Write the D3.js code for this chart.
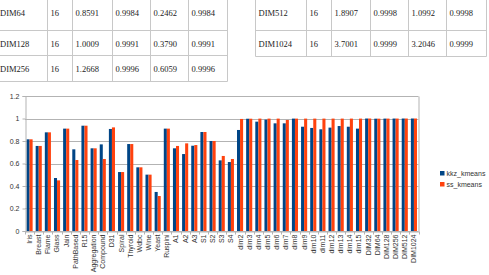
<!DOCTYPE html>
<html>
<head>
<meta charset="utf-8">
<script src="https://cdn.jsdelivr.net/npm/d3@7"></script>
<style>
  body { margin: 0; background: #fff; }
  svg { display: block; }
</style>
</head>
<body>
<svg id="chart" width="489" height="275"></svg>
<script>
// table rows shown above the chart
const tableLeftRows = [
    ["DIM64", "16", "0.8591", "0.9984", "0.2462", "0.9984"],
    ["DIM128", "16", "1.0009", "0.9991", "0.3790", "0.9991"],
    ["DIM256", "16", "1.2668", "0.9996", "0.6059", "0.9996"]
]
const tableRightRows = [
    ["DIM512", "16", "1.8907", "0.9998", "1.0992", "0.9998"],
    ["DIM1024", "16", "3.7001", "0.9999", "3.2046", "0.9999"]
]

const categories = ["Iris", "Breast", "Flame", "Glass", "Jain", "PathBased", "R15", "Aggregation",
    "Compound", "D31", "Spiral", "Thyroid", "Wdbc", "Wine", "Yeast", "Ruspini", "A1", "A2", "A3",
    "S1", "S2", "S3", "S4", "dim2", "dim3", "dim4", "dim5", "dim6", "dim7", "dim8", "dim9", "dim10",
    "dim11", "dim12", "dim13", "dim14", "dim15", "DIM32", "DIM64", "DIM128", "DIM256", "DIM512", "DIM1024"]
const seriesNames = ["kkz_kmeans", "ss_kmeans"]
const kkz = [0.815, 0.756, 0.877, 0.471, 0.910, 0.726, 0.936, 0.735,
    0.770, 0.907, 0.524, 0.773, 0.566, 0.501, 0.347, 0.910, 0.735, 0.684, 0.758,
    0.880, 0.800, 0.628, 0.613, 0.898, 0.998, 0.972, 0.990, 0.957, 0.957, 0.999, 0.927, 0.916,
    0.904, 0.919, 0.933, 0.927, 0.910, 0.9998, 0.9984, 0.9991, 0.9996, 0.9998, 0.9999]
const ss = [0.815, 0.756, 0.877, 0.450, 0.910, 0.631, 0.936, 0.735,
    0.640, 0.921, 0.524, 0.773, 0.566, 0.501, 0.311, 0.910, 0.756, 0.779, 0.764,
    0.880, 0.800, 0.667, 0.640, 0.996, 0.998, 0.999, 0.999, 0.999, 0.987, 0.999, 0.999, 0.999,
    0.999, 0.999, 0.999, 0.999, 0.999, 0.9998, 0.9984, 0.9991, 0.9996, 0.9998, 0.9999]
const yTicks = [0, 0.2, 0.4, 0.6, 0.8, 1, 1.2]
const colors = ["#004586", "#ff420e"]

const svg = d3.select('#chart')

// ---- tables ----
const drawTable = (rows, colEdges, rowEdges, leftBorder) => {
    const g = svg.append('g')
    const x0 = colEdges[0], x1 = colEdges[colEdges.length - 1]
    rowEdges.forEach(y => {
        g.append('line').attr('x1', x0).attr('x2', x1).attr('y1', y).attr('y2', y)
            .attr('stroke', '#c8c8c8').attr('stroke-width', 1)
    })
    colEdges.forEach((x, i) => {
        if (i == 0 && !leftBorder) return
        g.append('line').attr('x1', x).attr('x2', x).attr('y1', 0).attr('y2', rowEdges[rowEdges.length - 1])
            .attr('stroke', '#c8c8c8').attr('stroke-width', 1)
    })
    const rowTop = [0].concat(rowEdges)
    rows.forEach((row, r) => {
        row.forEach((cell, c) => {
            g.append('text')
                .attr('x', colEdges[c] + 3)
                .attr('y', rowTop[r] + 16)
                .attr('font-family', 'Liberation Serif, serif')
                .attr('font-size', 8.5)
                .attr('fill', '#222')
                .text(cell)
        })
    })
}
drawTable(tableLeftRows, [-3, 47.5, 72.5, 112.5, 150.5, 188.5, 227.5], [30.5, 55.5, 81.5], false)
drawTable(tableRightRows, [255.5, 306.5, 331.5, 370.5, 408.5, 446.5, 486.5], [30.5, 56.5], true)

// ---- chart ----
const plotLeft = 25, plotRight = 418.5, plotTop = 96, plotBottom = 231

const x = d3.scaleBand().domain(categories).range([plotLeft, plotRight])
const x1 = d3.scaleBand().domain(seriesNames)
    .range([x.bandwidth() / 6, x.bandwidth() * 5 / 6])
const y = d3.scaleLinear().domain([0, 1.2]).range([plotBottom, plotTop])

// gridlines
svg.append('g').selectAll('line')
    .data(yTicks)
    .enter()
        .append('line')
        .attr('x1', plotLeft).attr('x2', plotRight)
        .attr('y1', d => Math.round(y(d)) + 0.5).attr('y2', d => Math.round(y(d)) + 0.5)
        .attr('stroke', '#b3b3b3')
svg.append('line')
    .attr('x1', plotRight + 0.5).attr('x2', plotRight + 0.5)
    .attr('y1', Math.round(y(1.2)) + 0.5).attr('y2', Math.round(y(0)) + 0.5)
    .attr('stroke', '#b3b3b3')

// bars
const seriesData = [kkz, ss]
seriesData.forEach((vals, s) => {
    svg.append('g').selectAll('rect')
        .data(vals)
        .enter()
            .append('rect')
            .attr('x', (d, i) => x(categories[i]) + x1(seriesNames[s]))
            .attr('y', d => y(d))
            .attr('width', x1.bandwidth())
            .attr('height', d => y(0) - y(d))
            .attr('fill', colors[s])
})

// y axis
const yAxis = svg.append('g')
    .attr('transform', `translate(${plotLeft + 0.5},0)`)
    .call(d3.axisLeft(y).tickValues(yTicks).tickSize(3).tickPadding(3)
        .tickFormat(d => d3.format('~g')(d)))
yAxis.selectAll('text').attr('font-family', 'Liberation Sans, Arial, sans-serif')
    .attr('font-size', 7).attr('fill', '#333')
yAxis.selectAll('line, path').attr('stroke', '#b3b3b3')

// x axis
const xAxis = svg.append('g')
    .attr('transform', `translate(0,${Math.round(y(0)) + 0.5})`)
    .call(d3.axisBottom(x).tickSize(0).tickPadding(3))
xAxis.select('path').attr('stroke', '#b3b3b3')
xAxis.selectAll('text')
    .attr('font-family', 'Liberation Sans, Arial, sans-serif')
    .attr('font-size', 7)
    .attr('fill', '#333')
    .attr('transform', 'rotate(-90)')
    .attr('text-anchor', 'end')
    .attr('dy', '0.35em')
    .attr('x', -3)
    .attr('y', 0)
// small ticks between categories
xAxis.selectAll('.sep')
    .data(categories.concat(['end']))
    .enter()
        .append('line')
        .attr('class', 'sep')
        .attr('x1', (d, i) => Math.round(plotLeft + i * x.bandwidth()) + 0.5)
        .attr('x2', (d, i) => Math.round(plotLeft + i * x.bandwidth()) + 0.5)
        .attr('y1', 0).attr('y2', 3)
        .attr('stroke', '#b3b3b3')

// legend
const legend = svg.append('g').attr('transform', 'translate(440,171)')
seriesNames.forEach((name, i) => {
    legend.append('rect').attr('x', 0).attr('y', i * 11).attr('width', 4.5).attr('height', 4.5)
        .attr('fill', colors[i])
    legend.append('text').attr('x', 6.5).attr('y', i * 11 + 5)
        .attr('font-family', 'Liberation Sans, Arial, sans-serif')
        .attr('font-size', 7).attr('fill', '#333')
        .text(name)
})
</script>
</body>
</html>
